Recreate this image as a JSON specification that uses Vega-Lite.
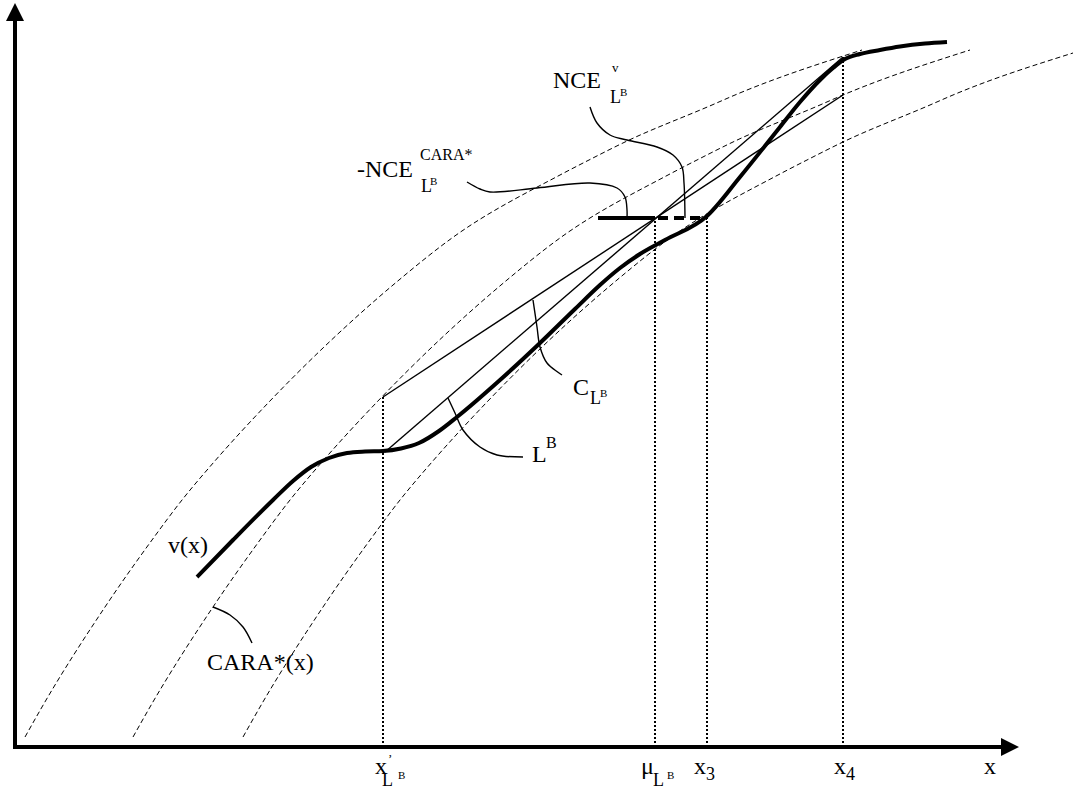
{
  "$schema": "https://vega.github.io/schema/vega-lite/v6.json",
  "width": 1073,
  "height": 789,
  "padding": 0,
  "autosize": "none",
  "background": "white",
  "config": {"view": {"stroke": null}},
  "datasets": {
    "axisLines": [{"x": 0, "y": -1, "x2": 0, "y2": 727}, {"x": -2, "y": 0, "x2": 987, "y2": 0}],
    "arrowUp": [{"x": 0, "y": 735}],
    "arrowRight": [{"x": 995, "y": 0}],
    "cara": [
      {"c": "c1", "x": 10, "y": 10}, {"c": "c1", "x": 27, "y": 40}, {"c": "c1", "x": 90, "y": 140}, {"c": "c1", "x": 137, "y": 207}, {"c": "c1", "x": 167, "y": 247}, {"c": "c1", "x": 199, "y": 285}, {"c": "c1", "x": 254, "y": 345}, {"c": "c1", "x": 384, "y": 467}, {"c": "c1", "x": 437, "y": 509}, {"c": "c1", "x": 545, "y": 572}, {"c": "c1", "x": 574, "y": 587}, {"c": "c1", "x": 610, "y": 605}, {"c": "c1", "x": 697, "y": 642}, {"c": "c1", "x": 720, "y": 652}, {"c": "c1", "x": 847, "y": 697},
      {"c": "c2", "x": 118, "y": 10}, {"c": "c2", "x": 135, "y": 40}, {"c": "c2", "x": 198, "y": 140}, {"c": "c2", "x": 245, "y": 207}, {"c": "c2", "x": 275, "y": 247}, {"c": "c2", "x": 307, "y": 285}, {"c": "c2", "x": 362, "y": 345}, {"c": "c2", "x": 492, "y": 467}, {"c": "c2", "x": 545, "y": 509}, {"c": "c2", "x": 653, "y": 572}, {"c": "c2", "x": 682, "y": 587}, {"c": "c2", "x": 718, "y": 605}, {"c": "c2", "x": 805, "y": 642}, {"c": "c2", "x": 828, "y": 652}, {"c": "c2", "x": 955, "y": 697},
      {"c": "c3", "x": 228, "y": 10}, {"c": "c3", "x": 245, "y": 40}, {"c": "c3", "x": 308, "y": 140}, {"c": "c3", "x": 355, "y": 207}, {"c": "c3", "x": 385, "y": 247}, {"c": "c3", "x": 417, "y": 285}, {"c": "c3", "x": 472, "y": 345}, {"c": "c3", "x": 602, "y": 467}, {"c": "c3", "x": 655, "y": 509}, {"c": "c3", "x": 763, "y": 572}, {"c": "c3", "x": 792, "y": 587}, {"c": "c3", "x": 828, "y": 605}, {"c": "c3", "x": 915, "y": 642}, {"c": "c3", "x": 938, "y": 652}, {"c": "c3", "x": 1058, "y": 694}
    ],
    "v": [
      {"x": 182, "y": 170}, {"x": 218, "y": 207}, {"x": 258, "y": 247}, {"x": 278, "y": 266}, {"x": 296, "y": 280}, {"x": 314, "y": 289}, {"x": 332, "y": 294}, {"x": 350, "y": 295.5}, {"x": 368, "y": 296}, {"x": 386, "y": 298.5}, {"x": 404, "y": 304}, {"x": 424, "y": 316}, {"x": 442, "y": 330}, {"x": 485, "y": 367}, {"x": 525, "y": 404}, {"x": 560, "y": 438}, {"x": 585, "y": 462}, {"x": 605, "y": 479}, {"x": 625, "y": 493}, {"x": 650, "y": 507}, {"x": 692, "y": 531}, {"x": 725, "y": 570}, {"x": 765, "y": 620}, {"x": 785, "y": 645}, {"x": 805, "y": 667}, {"x": 818, "y": 679}, {"x": 830, "y": 688}, {"x": 845, "y": 693}, {"x": 865, "y": 697}, {"x": 885, "y": 700.5}, {"x": 910, "y": 703.5}, {"x": 932, "y": 705}
    ],
    "chords": [
      {"c": "A", "x": 368, "y": 350}, {"c": "A", "x": 828, "y": 652},
      {"c": "B", "x": 370, "y": 295}, {"c": "B", "x": 828, "y": 690}
    ],
    "leaders": [
      {"id": "nv", "o": 1, "x": 575, "y": 640}, {"id": "nv", "o": 2, "x": 582, "y": 624}, {"id": "nv", "o": 3, "x": 595, "y": 612}, {"id": "nv", "o": 4, "x": 612, "y": 607}, {"id": "nv", "o": 5, "x": 642, "y": 600}, {"id": "nv", "o": 6, "x": 658, "y": 592}, {"id": "nv", "o": 7, "x": 667, "y": 580}, {"id": "nv", "o": 8, "x": 669, "y": 564}, {"id": "nv", "o": 9, "x": 670, "y": 529},
      {"id": "nc", "o": 1, "x": 452, "y": 565}, {"id": "nc", "o": 2, "x": 465, "y": 558}, {"id": "nc", "o": 3, "x": 475, "y": 555}, {"id": "nc", "o": 4, "x": 522, "y": 559}, {"id": "nc", "o": 5, "x": 575, "y": 564}, {"id": "nc", "o": 6, "x": 602, "y": 559}, {"id": "nc", "o": 7, "x": 610, "y": 550}, {"id": "nc", "o": 8, "x": 612, "y": 537}, {"id": "nc", "o": 9, "x": 612, "y": 529},
      {"id": "cl", "o": 1, "x": 518, "y": 447}, {"id": "cl", "o": 2, "x": 522, "y": 420}, {"id": "cl", "o": 3, "x": 525, "y": 400}, {"id": "cl", "o": 4, "x": 532, "y": 384}, {"id": "cl", "o": 5, "x": 547, "y": 372},
      {"id": "lb", "o": 1, "x": 433, "y": 349}, {"id": "lb", "o": 2, "x": 440, "y": 334}, {"id": "lb", "o": 3, "x": 448, "y": 317}, {"id": "lb", "o": 4, "x": 465, "y": 300}, {"id": "lb", "o": 5, "x": 482, "y": 292}, {"id": "lb", "o": 6, "x": 508, "y": 290},
      {"id": "ca", "o": 1, "x": 198, "y": 140}, {"id": "ca", "o": 2, "x": 215, "y": 132}, {"id": "ca", "o": 3, "x": 228, "y": 120}, {"id": "ca", "o": 4, "x": 237, "y": 104}
    ],
    "dotted": [
      {"x": 368, "y": 0, "y2": 350}, {"x": 640, "y": 0, "y2": 529}, {"x": 692, "y": 0, "y2": 531}, {"x": 828, "y": 0, "y2": 690}
    ],
    "thickH": [{"x": 583, "x2": 640, "y": 529}],
    "dashH": [{"x": 643, "x2": 692, "y": 529}],
    "t24": [
      {"t": "v(x)", "x": 153, "y": 194}, {"t": "CARA*(x)", "x": 192, "y": 77}, {"t": "-NCE", "x": 342, "y": 570}, {"t": "NCE", "x": 538, "y": 659}, {"t": "C", "x": 558, "y": 352}, {"t": "L", "x": 517, "y": 285},
      {"t": "x", "x": 360, "y": -27}, {"t": "μ", "x": 626, "y": -27}, {"t": "x", "x": 679, "y": -27}, {"t": "x", "x": 819, "y": -27}, {"t": "x", "x": 969, "y": -27}
    ],
    "t18": [
      {"t": "L", "x": 367, "y": -39}, {"t": "L", "x": 406, "y": 555}, {"t": "L", "x": 595, "y": 644}, {"t": "L", "x": 575, "y": 343}, {"t": "L", "x": 638, "y": -39}, {"t": "3", "x": 691, "y": -33}, {"t": "4", "x": 831, "y": -33}
    ],
    "t16": [
      {"t": "CARA*", "x": 405, "y": 587}, {"t": "B", "x": 531, "y": 299}
    ],
    "t13": [
      {"t": "v", "x": 597, "y": 675}, {"t": "’", "x": 373, "y": -16}
    ],
    "t11": [
      {"t": "B", "x": 415, "y": 562}, {"t": "B", "x": 605, "y": 651}, {"t": "B", "x": 585, "y": 350}, {"t": "B", "x": 383, "y": -32}, {"t": "B", "x": 652, "y": -32}
    ]
  },
  "encoding": {
    "x": {"field": "x", "type": "quantitative", "scale": {"domain": [-15, 1058], "nice": false, "zero": false}, "axis": null},
    "y": {"field": "y", "type": "quantitative", "scale": {"domain": [-42, 747], "nice": false, "zero": false}, "axis": null}
  },
  "layer": [
    {"data": {"name": "cara"}, "mark": {"type": "line", "color": "black", "strokeWidth": 1, "strokeDash": [5, 3], "interpolate": "monotone"}, "encoding": {"detail": {"field": "c"}}},
    {"data": {"name": "chords"}, "mark": {"type": "line", "color": "black", "strokeWidth": 1.4}, "encoding": {"detail": {"field": "c"}}},
    {"data": {"name": "leaders"}, "mark": {"type": "line", "color": "black", "strokeWidth": 1.4, "interpolate": "catmull-rom"}, "encoding": {"detail": {"field": "id"}, "order": {"field": "o"}}},
    {"data": {"name": "dotted"}, "mark": {"type": "rule", "color": "black", "strokeWidth": 2, "strokeDash": [2, 2]}, "encoding": {"y2": {"field": "y2"}}},
    {"data": {"name": "v"}, "mark": {"type": "line", "color": "black", "strokeWidth": 4, "interpolate": "monotone"}, "encoding": {}},
    {"data": {"name": "thickH"}, "mark": {"type": "rule", "color": "black", "strokeWidth": 4}, "encoding": {"x2": {"field": "x2"}}},
    {"data": {"name": "dashH"}, "mark": {"type": "rule", "color": "black", "strokeWidth": 4, "strokeDash": [10, 6]}, "encoding": {"x2": {"field": "x2"}}},
    {"data": {"name": "axisLines"}, "mark": {"type": "rule", "color": "black", "strokeWidth": 4}, "encoding": {"x2": {"field": "x2"}, "y2": {"field": "y2"}}},
    {"data": {"name": "arrowUp"}, "mark": {"type": "point", "shape": "M0,-1L1,1L-1,1Z", "filled": true, "color": "black", "opacity": 1, "size": 324}},
    {"data": {"name": "arrowRight"}, "mark": {"type": "point", "shape": "M-1,-1L1,0L-1,1Z", "filled": true, "color": "black", "opacity": 1, "size": 324}},
    {"data": {"name": "t24"}, "mark": {"type": "text", "align": "left", "baseline": "alphabetic", "font": "Liberation Serif", "fontSize": 24, "color": "black"}, "encoding": {"text": {"field": "t"}}},
    {"data": {"name": "t18"}, "mark": {"type": "text", "align": "left", "baseline": "alphabetic", "font": "Liberation Serif", "fontSize": 18, "color": "black"}, "encoding": {"text": {"field": "t"}}},
    {"data": {"name": "t16"}, "mark": {"type": "text", "align": "left", "baseline": "alphabetic", "font": "Liberation Serif", "fontSize": 16, "color": "black"}, "encoding": {"text": {"field": "t"}}},
    {"data": {"name": "t13"}, "mark": {"type": "text", "align": "left", "baseline": "alphabetic", "font": "Liberation Serif", "fontSize": 13, "color": "black"}, "encoding": {"text": {"field": "t"}}},
    {"data": {"name": "t11"}, "mark": {"type": "text", "align": "left", "baseline": "alphabetic", "font": "Liberation Serif", "fontSize": 11, "color": "black"}, "encoding": {"text": {"field": "t"}}}
  ]
}
